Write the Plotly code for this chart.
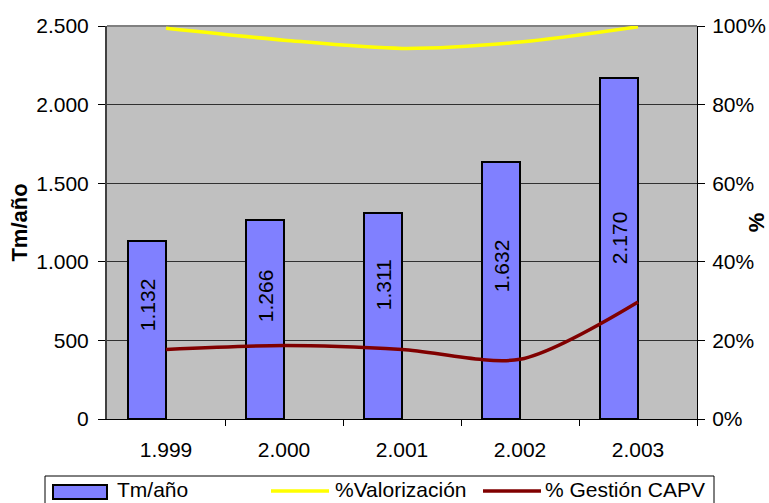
import plotly.graph_objects as go

years = ["1.999", "2.000", "2.001", "2.002", "2.003"]
tm_ano = [1132, 1266, 1311, 1632, 2170]
pct_valorizacion = [0.994, 0.964, 0.943, 0.959, 0.998]
pct_gestion_capv = [0.177, 0.187, 0.177, 0.152, 0.298]

# where the middle of each rotated value label sits (in Tm/año units), as in the original
label_mid = [725, 782, 852, 973, 1151]

W, H = 769, 503
L, R, T, B = 107, 72, 26, 84
FONT = "Liberation Sans, Arial, sans-serif"

def px_x(px):
    return (px - L) / (W - L - R)

def px_y(py):
    return (H - B - py) / (H - T - B)

fig = go.Figure()

# bars sit in the left half of each category (second excel series was empty)
fig.add_trace(go.Bar(
    x=list(range(len(years))), y=tm_ano, width=0.32, offset=-0.32,
    marker=dict(color="#8080FF", line=dict(color="black", width=2)),
    showlegend=False, hoverinfo="y",
))
fig.add_trace(go.Scatter(
    x=list(range(len(years))), y=pct_valorizacion, yaxis="y2", mode="lines",
    line=dict(color="#FFFF00", width=3.5, shape="spline", smoothing=0.8),
    showlegend=False,
))
fig.add_trace(go.Scatter(
    x=list(range(len(years))), y=pct_gestion_capv, yaxis="y2", mode="lines",
    line=dict(color="#800000", width=3.5, shape="spline", smoothing=0.8),
    showlegend=False,
))

# value labels, rotated inside the bars
for i, v in enumerate(tm_ano):
    fig.add_annotation(
        x=i - 0.16, y=label_mid[i], yanchor="middle",
        text=f"{v/1000:.3f}", textangle=-90, showarrow=False,
        font=dict(size=21, color="black", family=FONT),
    )

# legend box drawn by hand (excel style: wide swatches)
shapes = [
    dict(type="rect", xref="paper", yref="paper",
         x0=px_x(45), x1=px_x(714), y0=px_y(476), y1=px_y(520),
         line=dict(color="black", width=1), fillcolor="white", layer="above"),
    dict(type="rect", xref="paper", yref="paper",
         x0=px_x(53), x1=px_x(107), y0=px_y(485), y1=px_y(499),
         line=dict(color="black", width=2), fillcolor="#8080FF", layer="above"),
    dict(type="line", xref="paper", yref="paper",
         x0=px_x(271), x1=px_x(329), y0=px_y(491), y1=px_y(491),
         line=dict(color="#FFFF00", width=3.5), layer="above"),
    dict(type="line", xref="paper", yref="paper",
         x0=px_x(483), x1=px_x(541), y0=px_y(491), y1=px_y(491),
         line=dict(color="#800000", width=3.5), layer="above"),
    # grey frame on top of the plot area
    dict(type="line", xref="paper", yref="paper", x0=0, x1=1, y0=1, y1=1,
         line=dict(color="#808080", width=2), layer="below"),
]
for x0, txt in [(115, "Tm/año"), (333, "%Valorización"), (543, "% Gestión CAPV")]:
    fig.add_annotation(
        xref="paper", yref="paper", x=px_x(x0), y=px_y(490),
        xanchor="left", yanchor="middle", text=txt, showarrow=False,
        font=dict(size=21, color="black", family=FONT),
    )

fig.update_layout(
    width=W, height=H,
    margin=dict(l=L, r=R, t=T, b=B, autoexpand=False),
    paper_bgcolor="white", plot_bgcolor="#C0C0C0",
    separators=",.",
    font=dict(family=FONT, size=21, color="black"),
    bargap=0,
    shapes=shapes,
    xaxis=dict(
        tickmode="array", tickvals=list(range(len(years))), ticktext=years,
        range=[-0.5, len(years) - 0.5], automargin=False,
        showgrid=False, zeroline=False,
        showline=True, linecolor="black", linewidth=1,
        ticks="", ticklen=0,
        minor=dict(tickmode="array", tickvals=[i + 0.5 for i in range(len(years))],
                   ticks="outside", ticklen=6, tickcolor="black", showgrid=False),
        ticklabelstandoff=12,
    ),
    yaxis=dict(
        title=dict(text="<b>Tm/año</b>", font=dict(size=22), standoff=3),
        range=[0, 2500], dtick=500, tickformat=",d", automargin=False,
        showgrid=True, gridcolor="#303030", gridwidth=1, zeroline=False,
        showline=True, linecolor="#404040", linewidth=2,
        ticks="outside", ticklen=7, tickcolor="black",
        ticklabelstandoff=5,
    ),
    yaxis2=dict(
        title=dict(text="<b>%</b>", font=dict(size=22), standoff=6),
        overlaying="y", side="right", automargin=False,
        range=[0, 1], dtick=0.2, tickformat=".0%",
        showgrid=False, zeroline=False,
        showline=True, linecolor="black", linewidth=1,
        ticks="outside", ticklen=7, tickcolor="black",
        ticklabelstandoff=3,
    ),
)

# page body has an 8px default margin, drop it so the figure fills the window
fig.write_html("out.html", config={"displayModeBar": False},
               post_script="document.body.style.margin='0';")
